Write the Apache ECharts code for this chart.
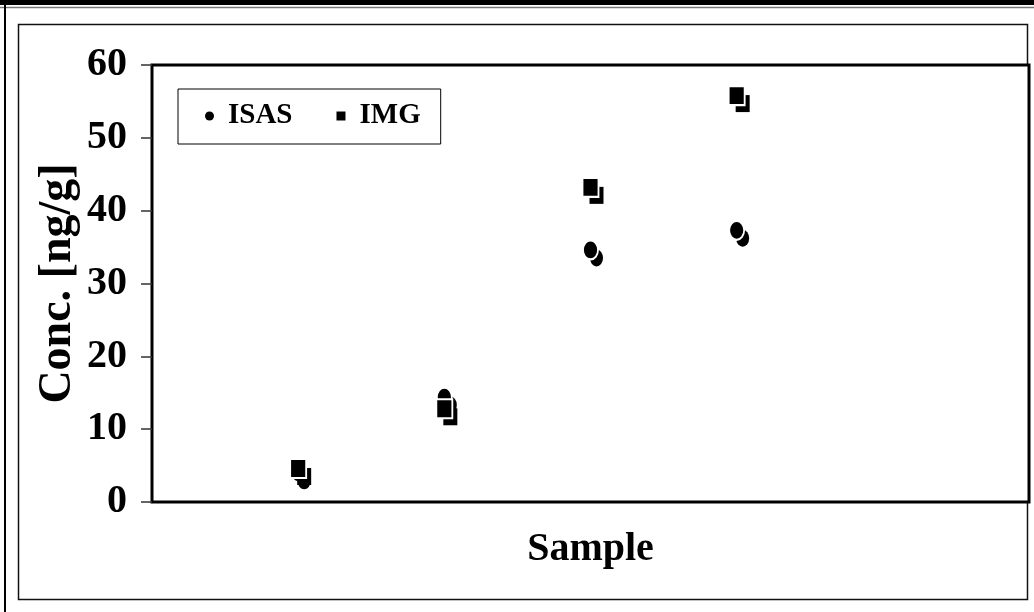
<!DOCTYPE html>
<html>
<head>
<meta charset="utf-8">
<script src="https://cdn.jsdelivr.net/npm/echarts@6/dist/echarts.min.js"></script>
<style>
html,body{margin:0;padding:0;background:#fff;}
#chart{width:1034px;height:612px;}
</style>
</head>
<body>
<div id="chart"></div>
<script>
// Data
var samples = [1, 2, 3, 4];
var isasValues = [4.0, 14.4, 34.6, 37.3];
var imgValues = [4.6, 12.8, 43.2, 55.8];
var yTicks = [0, 10, 20, 30, 40, 50, 60];

var FONT = '"Liberation Serif", "Times New Roman", serif';

function pairs(xs, ys) {
  return xs.map(function (x, i) { return [x, ys[i]]; });
}

var shadowOffset = [6, 8];

var chart = echarts.init(document.getElementById('chart'), null, {renderer: 'canvas'});
chart.setOption({
  animation: false,
  backgroundColor: '#fff',
  graphic: [
    {type: 'rect', shape: {x: 0, y: 0, width: 1034, height: 5}, style: {fill: '#000'}, silent: true},
    {type: 'line', shape: {x1: 0, y1: 7.5, x2: 1034, y2: 7.5}, style: {stroke: '#777', lineWidth: 1.5}, silent: true},
    {type: 'line', shape: {x1: 5, y1: 0, x2: 5, y2: 612}, style: {stroke: '#000', lineWidth: 2}, silent: true},
    {type: 'rect', shape: {x: 18.5, y: 24.5, width: 1009, height: 575}, style: {fill: 'none', stroke: '#111', lineWidth: 1.5}, silent: true, z: -1}
  ],
  grid: {
    left: 152, top: 65, right: 5, bottom: 110,
    show: true, borderColor: '#000', borderWidth: 3, backgroundColor: '#fff'
  },
  legend: {
    left: 178, top: 89,
    orient: 'horizontal',
    backgroundColor: '#fff',
    borderColor: '#000', borderWidth: 1,
    padding: [12, 20, 13, 27],
    itemGap: 44,
    itemWidth: 9, itemHeight: 9,
    textStyle: {fontFamily: FONT, fontWeight: 'bold', fontSize: 29, color: '#000', lineHeight: 30, padding: [0, 0, 0, 9]},
    data: [
      {name: 'ISAS', icon: 'circle', itemStyle: {color: '#000', borderWidth: 0}},
      {name: 'IMG', icon: 'rect', itemStyle: {color: '#000', borderWidth: 0}}
    ],
    z: 10
  },
  xAxis: {
    type: 'value', min: 0, max: 6,
    axisLine: {show: false}, axisTick: {show: false}, axisLabel: {show: false}, splitLine: {show: false},
    name: 'Sample', nameLocation: 'middle', nameGap: 28,
    nameTextStyle: {fontFamily: FONT, fontWeight: 'bold', fontSize: 40, color: '#000'}
  },
  yAxis: {
    type: 'value', min: 0, max: 60, interval: 10,
    axisLine: {show: false},
    axisTick: {show: true, inside: false, length: 11, lineStyle: {color: '#333', width: 1.5}},
    axisLabel: {
      margin: 25, fontFamily: FONT, fontWeight: 'bold', fontSize: 40, color: '#000',
      formatter: function (v) { return yTicks.indexOf(v) >= 0 ? String(v) : ''; }
    },
    splitLine: {show: false},
    name: 'Conc. [ng/g]', nameLocation: 'middle', nameGap: 71, nameRotate: 90,
    nameMoveOverlap: false,
    nameTextStyle: {fontFamily: FONT, fontWeight: 'bold', fontSize: 46, color: '#000'}
  },
  series: [
    {
      name: 'ISAS-shadow', type: 'scatter', data: pairs(samples, isasValues),
      symbol: 'circle', symbolSize: [13, 17], symbolOffset: shadowOffset,
      itemStyle: {color: '#000', opacity: 1}, silent: true, z: 2
    },
    {
      name: 'ISAS', type: 'scatter', data: pairs(samples, isasValues),
      symbol: 'circle', symbolSize: [15, 19],
      itemStyle: {color: '#000', borderColor: '#fff', borderWidth: 2, opacity: 1}, z: 3
    },
    {
      name: 'IMG-shadow', type: 'scatter', data: pairs(samples, imgValues),
      symbol: 'rect', symbolSize: [14, 17], symbolOffset: shadowOffset,
      itemStyle: {color: '#000', opacity: 1}, silent: true, z: 4
    },
    {
      name: 'IMG', type: 'scatter', data: pairs(samples, imgValues),
      symbol: 'rect', symbolSize: [16, 19],
      itemStyle: {color: '#000', borderColor: '#fff', borderWidth: 2, opacity: 1}, z: 5
    }
  ]
});
</script>
</body>
</html>
